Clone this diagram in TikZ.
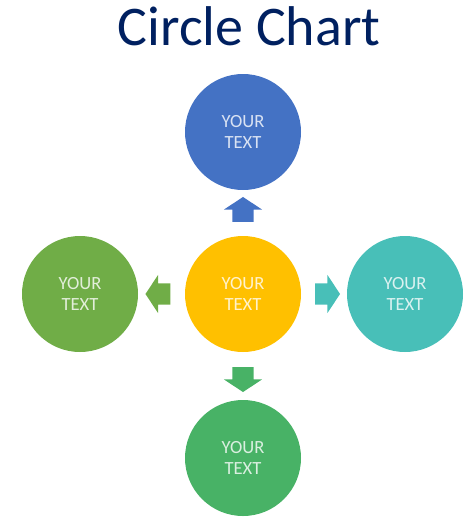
\documentclass[tikz,border=0pt]{standalone}
\usepackage{fontspec}
\setmainfont{Carlito}
\usetikzlibrary{shapes.arrows,calc}
\definecolor{titlenavy}{RGB}{0,32,96}
\definecolor{chartblue}{RGB}{68,114,196}
\definecolor{chartyellow}{RGB}{255,192,0}
\definecolor{chartgreen}{RGB}{112,173,71}
\definecolor{chartteal}{RGB}{72,191,184}
\definecolor{chartjade}{RGB}{72,178,102}

\begin{document}
\begin{tikzpicture}[x=1pt,y=-1pt,
  bubble/.style={circle,minimum size=116pt,inner sep=0pt,text=white,text opacity=.8,
    align=center,font=\fontsize{18.6}{21}\selectfont},
  blockarrow/.style={single arrow,minimum height=25pt,inner xsep=0pt,inner ysep=10.5pt,
    single arrow head extend=8.5pt,single arrow tip angle=113}]
\useasboundingbox (0,0) rectangle (472,530);

\node[anchor=base,text=titlenavy,font=\fontsize{56}{60}\selectfont] (title) at (249,45) {Circle Chart};

\node[bubble,fill=chartyellow] (cMid) at (243,294) {YOUR\\TEXT};
\node[bubble,fill=chartblue] (cTop) at (243,132) {YOUR\\TEXT};
\node[bubble,fill=chartgreen] (cLeft) at (80,294) {YOUR\\TEXT};
\node[bubble,fill=chartteal] (cRight) at (405,294) {YOUR\\TEXT};
\node[bubble,fill=chartjade] (cBottom) at (243,458) {YOUR\\TEXT};

\node[blockarrow,fill=chartblue,rotate=90] (aUp) at ($(cMid)!0.5!(cTop)$) {};
\node[blockarrow,fill=chartgreen,rotate=180] (aLeft) at ($(cMid)!0.5!(cLeft)$) {};
\node[blockarrow,fill=chartteal] (aRight) at ($(cMid)!0.5!(cRight)$) {};
\node[blockarrow,fill=chartjade,rotate=270] (aDown) at ($(cMid)!0.5!(cBottom)$) {};
\end{tikzpicture}
\end{document}
